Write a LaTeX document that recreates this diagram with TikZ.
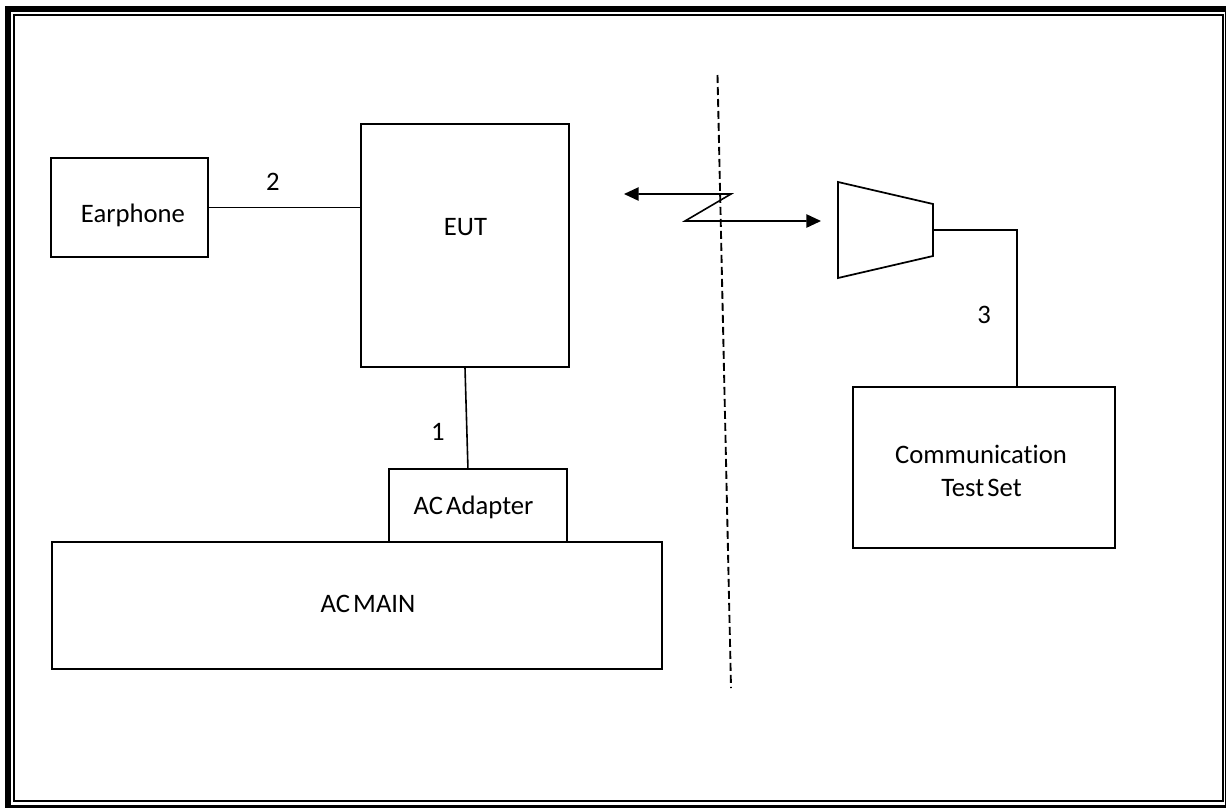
\documentclass[tikz,border=0pt]{standalone}
\usepackage{fontspec}
\setmainfont{Carlito}[RawFeature={-liga;-dlig;-clig}]
\usetikzlibrary{arrows.meta,fit,calc}
\tikzset{
  box/.style={draw=black,line width=1.2pt,rectangle,inner sep=0pt},
  txt/.style={font=\fontsize{20pt}{24.75pt}\selectfont,anchor=base,inner sep=0pt,align=center},
  wire/.style={draw=black,line width=1.2pt},
  radiotip/.tip={Triangle[length=11pt,width=10pt]},
}
\newcommand\tsp{\hspace{0.12em}}
\begin{document}
\begin{tikzpicture}[x=0.75pt,y=-0.75pt]
\useasboundingbox (0,0) rectangle (1226,807);
\clip (0,0) rectangle (1226,807);
% double page frame
\draw[line width=4.5pt] (8,9) rectangle (1228,807.5);
\draw[line width=1.5pt] (14,15) rectangle (1222.5,800.5);

% equipment boxes
\node[box,fit={(51,158)(208,257)}] (ear) {};
\node[box,fit={(361,124)(569,367)}] (eut) {};
\node[box,fit={(389,469)(567,542)}] (adapter) {};
\node[box,fit={(52,542)(662,669)}] (main) {};
\node[box,fit={(853,387)(1115,548)}] (cts) {};

% box texts
\node[txt] (earT) at (133,222) {Earphone};
\node[txt] (eutT) at (465.5,235) {EUT};
\node[txt] (adT) at (473.5,514) {AC\tsp Adapter};
\node[txt] (mainT) at (368,612) {AC\tsp MAIN};
\node[txt] (ctsT1) at (981,463) {Communication};
\node[txt] (ctsT2) at (981.5,496) {Test\tsp Set};

% cable numbers
\node[txt] (n2) at (273,190) {2};
\node[txt] (n1) at (438,440) {1};
\node[txt] (n3) at (984,323) {3};

% cables
\draw[wire] (ear.east) -- (ear.east -| eut.west);
\draw[wire] (eut.south) -- ($(adapter.north west)!0.444!(adapter.north east)$);

% antenna of the test set
\coordinate (aTL) at (838,182);
\coordinate (aTR) at (933,204);
\coordinate (aBR) at (933,256);
\coordinate (aBL) at (838,278);
\coordinate (aOut) at (933,230);
\coordinate (bend) at (1017,230);
\draw[line width=1.3pt,line join=miter] (aTL) -- (aTR) -- (aBR) -- (aBL) -- cycle;
\draw[wire] (aOut) -- (bend) -- (bend |- cts.north);

% radio link
\coordinate (w1) at (624,194);
\coordinate (w2) at (731,194);
\coordinate (w3) at (685,221);
\coordinate (w4) at (821,221);
\draw[wire,radiotip-radiotip] (w1) -- (w2) -- (w3) -- (w4);

% separation line
\coordinate (d1) at (717.5,75);
\coordinate (d2) at (731,688);
\draw[line width=1.4pt,dash pattern=on 6pt off 3pt] (d1) -- (d2);
\end{tikzpicture}
\end{document}
